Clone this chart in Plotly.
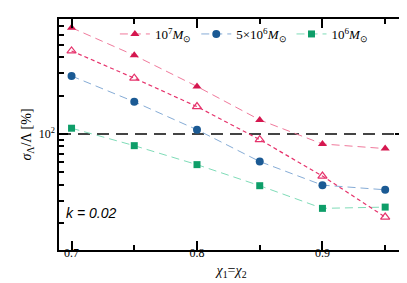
import plotly.graph_objects as go

chi = [0.7, 0.75, 0.8, 0.85, 0.9, 0.95]
m1e7_filled = [682, 414, 236, 129, 83.5, 76.8]
m1e7_open = [448, 274, 164, 90.3, 46.8, 22.3]
m5e6 = [285, 179, 108, 60.8, 39.7, 36.5]
m1e6 = [111, 81, 57.5, 39.3, 26.1, 26.7]
ref_level = 100

RED = "#d5174f"
BLUE = "#1b5a94"
GREEN = "#0e9e69"
SERIF = "Liberation Serif"

fig = go.Figure()

fig.add_trace(go.Scatter(
    x=chi, y=m1e7_filled, mode="lines+markers",
    name="10<sup>7</sup><i>M</i><sub>⊙</sub>",
    line=dict(color="#f07a9c", width=1, dash="8px,5px"),
    marker=dict(symbol="triangle-up", size=8, color=RED),
))
fig.add_trace(go.Scatter(
    x=chi, y=m5e6, mode="lines+markers",
    name="5×10<sup>6</sup><i>M</i><sub>⊙</sub>",
    line=dict(color="#86acd6", width=1, dash="8px,5px"),
    marker=dict(symbol="circle", size=8, color=BLUE),
))
fig.add_trace(go.Scatter(
    x=chi, y=m1e6, mode="lines+markers",
    name="10<sup>6</sup><i>M</i><sub>⊙</sub>",
    line=dict(color="#7fdcb8", width=1, dash="8px,5px"),
    marker=dict(symbol="square", size=7, color=GREEN),
))
fig.add_trace(go.Scatter(
    x=chi, y=m1e7_open, mode="lines+markers", showlegend=False,
    line=dict(color="#e6336c", width=1.2, dash="4px,3px"),
    marker=dict(symbol="triangle-up-open", size=8, color="#e6336c",
                line=dict(width=1.2)),
))

fig.add_hline(y=ref_level, line=dict(color="#444444", width=2, dash="12px,7px"), layer="below")

fig.add_annotation(x=0.015, y=0.16, xref="paper", yref="paper",
                   xanchor="left", yanchor="middle", showarrow=False,
                   text="<i>k = 0.02</i>",
                   font=dict(family="Liberation Sans", size=14, color="black"))

fig.update_xaxes(
    showline=True, linecolor="black", linewidth=1.5, mirror="allticks",
    ticks="inside", tickcolor="black", showgrid=False, zeroline=False,
    tickfont=dict(family=SERIF, size=12, color="black"),
    range=[0.690, 0.965], tick0=0.7, dtick=0.1, ticklen=9, tickwidth=1.5,
    tickformat=".1f", ticklabelstandoff=-9,
    minor=dict(ticks="inside", dtick=0.05, tick0=0.7, ticklen=5, tickwidth=1.5, tickcolor="black", showgrid=False),
    title=dict(text="<i>χ</i><sub>1</sub>=<i>χ</i><sub>2</sub>", font=dict(family=SERIF, size=14, color="black"), standoff=6),
)
fig.update_yaxes(
    showline=True, linecolor="black", linewidth=1.5, mirror="allticks",
    ticks="inside", tickcolor="black", showgrid=False, zeroline=False,
    tickfont=dict(family=SERIF, size=12, color="black"),
    type="log", range=[1.09, 2.902], tickvals=[100], ticktext=["10<sup>2</sup>"],
    ticklen=9, tickwidth=1.5,
    minor=dict(ticks="inside", dtick="D1", ticklen=5, tickwidth=1.5, tickcolor="black", showgrid=False),
    title=dict(text="<i>σ</i><sub>Λ</sub>/Λ [%]", font=dict(family=SERIF, size=14, color="black"), standoff=4),
)

fig.update_layout(
    width=407, height=283,
    margin=dict(l=51, r=9, t=10, b=41),
    plot_bgcolor="white", paper_bgcolor="white",
    showlegend=True,
    legend=dict(orientation="h", x=0.162, y=1.0, xanchor="left", yanchor="top",
                bgcolor="rgba(0,0,0,0)", borderwidth=0,
                font=dict(family=SERIF, size=13, color="black"),
                itemwidth=30, tracegroupgap=0),
)

fig.write_html("out.html")
